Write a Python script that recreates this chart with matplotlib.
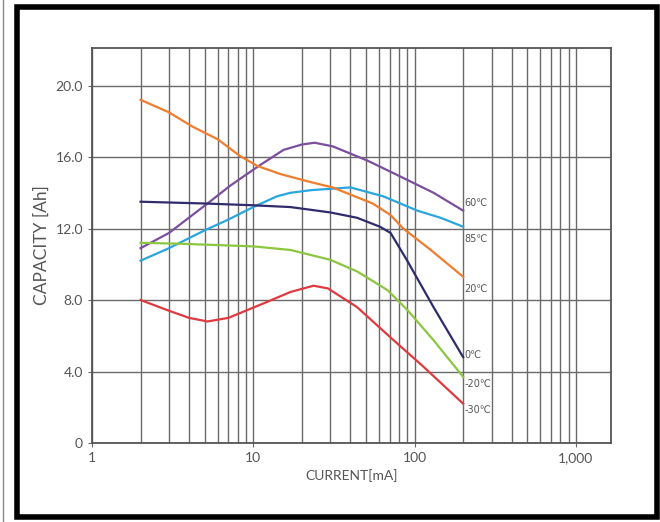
import matplotlib
matplotlib.use("Agg")
import matplotlib.pyplot as plt
from matplotlib.patches import Rectangle
from matplotlib.lines import Line2D
from matplotlib.ticker import FixedLocator, LogLocator, NullFormatter

plt.rcParams['font.family'] = ['Lato', 'DejaVu Sans']

# capacity curves (current in mA, capacity in Ah)
x_60 = [2, 3, 5.2, 7.2, 10.8, 15.4, 20, 24, 31, 51, 82, 131, 200]
y_60 = [10.9, 11.75, 13.4, 14.4, 15.5, 16.4, 16.7, 16.8, 16.6, 15.8, 14.9, 14.0, 13.0]

x_85 = [2, 3, 5, 7, 10, 14, 17, 23, 40, 64, 104, 145, 200]
y_85 = [10.2, 10.9, 11.9, 12.5, 13.2, 13.8, 14.0, 14.15, 14.3, 13.8, 13.0, 12.6, 12.1]

x_20 = [2, 3, 4.2, 6, 8.3, 10.6, 14.7, 22.6, 31, 55, 71, 85, 126, 200]
y_20 = [19.2, 18.5, 17.7, 17.0, 16.05, 15.5, 15.05, 14.6, 14.3, 13.4, 12.75, 12.0, 10.8, 9.3]

x_0 = [2, 5, 10, 17, 30, 44, 61, 71, 90, 131, 200]
y_0 = [13.5, 13.4, 13.3, 13.2, 12.9, 12.6, 12.1, 11.75, 10.2, 7.6, 4.8]

x_m20 = [2, 3.5, 5, 10, 17, 30, 44, 68, 90, 131, 200]
y_m20 = [11.2, 11.15, 11.1, 11.0, 10.8, 10.25, 9.6, 8.55, 7.45, 5.75, 3.7]

x_m30 = [2, 3, 4, 5.2, 7, 11.5, 17, 23.6, 29, 44, 71, 114, 200]
y_m30 = [8.0, 7.4, 7.0, 6.8, 7.0, 7.8, 8.45, 8.8, 8.65, 7.6, 5.9, 4.25, 2.2]

labels = ['60℃', '85℃', '20℃', '0℃', '-20℃', '-30℃']
label_y = [13.4, 11.4, 8.6, 4.9, 3.3, 1.85]

x_ticks = [1, 10, 100, 1000]
x_ticklabels = ['1', '10', '100', '1,000']
y_ticks = [0, 4, 8, 12, 16, 20]
y_ticklabels = ['0', '4.0', '8.0', '12.0', '16.0', '20.0']

fig = plt.figure(figsize=(6.6, 5.22), dpi=100)
ax = fig.add_axes([92 / 660, 1 - 443 / 522, 519 / 660, 395 / 522])

series = [
    (x_60, y_60, '#7b4f9d'),
    (x_85, y_85, '#2aa6df'),
    (x_20, y_20, '#ef7d2d'),
    (x_0, y_0, '#2f2c6c'),
    (x_m20, y_m20, '#8cc63f'),
    (x_m30, y_m30, '#df3a40'),
]
for xs, ys, c in series:
    ax.plot(xs, ys, color=c, lw=1.6, zorder=3, solid_joinstyle='round')

for lab, yy in zip(labels, label_y):
    ax.text(203, yy, lab, fontsize=7, color='#555555', ha='left', va='center',
            family=['DejaVu Sans'])

ax.set_xscale('log')
ax.set_xlim(1, 1650)
ax.set_ylim(0, 22.1)
ax.xaxis.set_major_locator(FixedLocator(x_ticks))
ax.set_xticklabels(x_ticklabels)
ax.xaxis.set_minor_locator(LogLocator(base=10, subs=range(2, 10)))
ax.xaxis.set_minor_formatter(NullFormatter())
ax.set_yticks(y_ticks)
ax.set_yticklabels(y_ticklabels)

ax.grid(which='both', axis='x', color='#6a6a6a', lw=1.0)
ax.grid(which='major', axis='y', color='#6a6a6a', lw=1.0)
ax.tick_params(axis='both', which='both', length=3, color='#666666',
               labelcolor='#555555', labelsize=10)
ax.tick_params(axis='x', which='minor', length=0)
for s in ax.spines.values():
    s.set_color('#555555')
    s.set_linewidth(1.3)

ax.set_ylabel('CAPACITY [Ah]', fontsize=12.5, color='#555555', labelpad=4)
ax.set_xlabel('CURRENT[mA]', fontsize=10, color='#555555', labelpad=4)

# black frame around the picture
fig.patches.append(Rectangle((16.5 / 660, 1 - 516.5 / 522), 640 / 660, 509.5 / 522,
                             transform=fig.transFigure, fill=False,
                             edgecolor='black', lw=4))
fig.lines.append(Line2D([3 / 660, 3 / 660], [0, 1], transform=fig.transFigure,
                        color='#888888', lw=1))

fig.savefig('out.png', dpi=100)
